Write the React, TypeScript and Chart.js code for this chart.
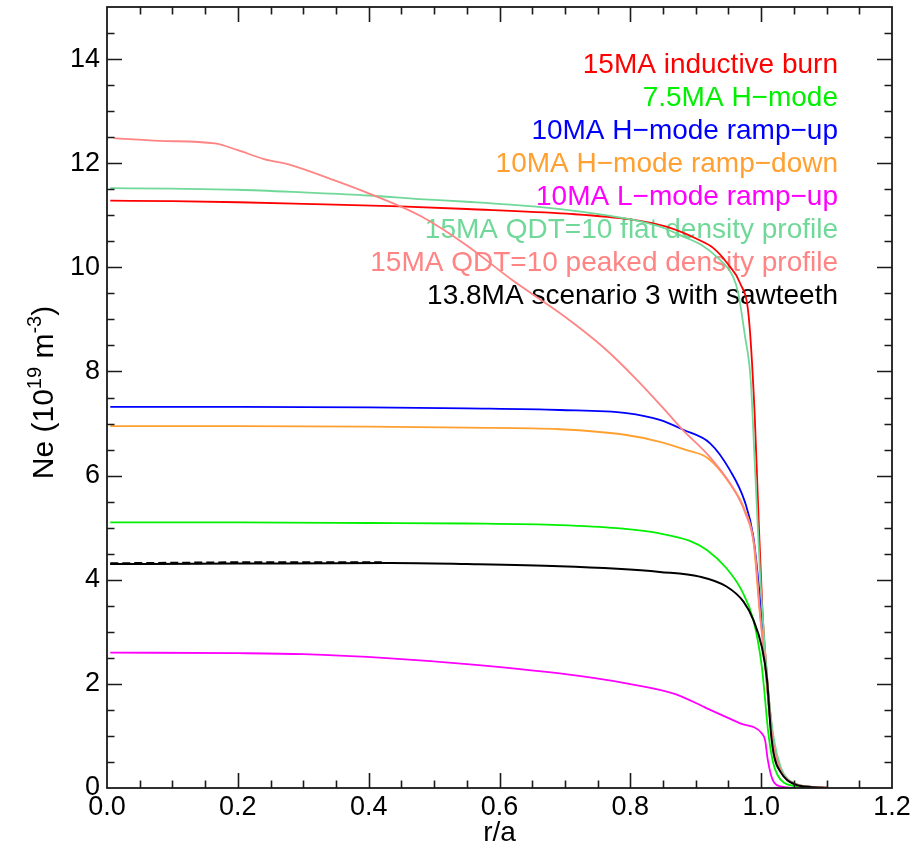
import React, { useEffect, useRef } from 'react';
import { Chart, registerables } from 'chart.js';

Chart.register(...registerables);

// ---------- data ----------
const seriesLabels = [
  '15MA inductive burn',
  '7.5MA H\u2212mode',
  '10MA H\u2212mode ramp\u2212up',
  '10MA H\u2212mode ramp\u2212down',
  '10MA L\u2212mode ramp\u2212up',
  '15MA QDT=10 flat density profile',
  '15MA QDT=10 peaked density profile',
  '13.8MA scenario 3 with sawteeth',
];
const seriesColors = ['#FF0000', '#00F000', '#0000FF', '#FFA030', '#FF00FF', '#70D898', '#FF8484', '#000000'];

const rInductive = [0.005, 0.1, 0.2, 0.3, 0.448, 0.55, 0.703, 0.8, 0.855, 0.906, 0.927, 0.95, 0.968, 0.981, 0.99, 0.996, 1.002, 1.008, 1.015, 1.02, 1.03, 1.04, 1.05, 1.06, 1.08, 1.1];
const neInductive = [11.28, 11.27, 11.25, 11.22, 11.17, 11.12, 11.03, 10.92, 10.78, 10.52, 10.37, 10.05, 9.69, 9.05, 7.2, 5.2, 3.4, 2.3, 1.3, 0.8, 0.35, 0.17, 0.09, 0.05, 0.02, 0.01];

const rH75 = [0.005, 0.2, 0.4, 0.55, 0.692, 0.78, 0.845, 0.89, 0.917, 0.947, 0.97, 0.988, 1.001, 1.011, 1.018, 1.025, 1.035, 1.05, 1.07, 1.1];
const neH75 = [5.1, 5.1, 5.09, 5.08, 5.05, 4.99, 4.89, 4.75, 4.57, 4.22, 3.8, 3.23, 2.33, 1.05, 0.5, 0.25, 0.1, 0.04, 0.01, 0.0];

const rHUp = [0.005, 0.2, 0.4, 0.55, 0.692, 0.794, 0.845, 0.881, 0.922, 0.952, 0.975, 0.988, 0.997, 1.003, 1.01, 1.015, 1.02, 1.03, 1.04, 1.05, 1.06, 1.08, 1.1];
const neHUp = [7.32, 7.32, 7.31, 7.29, 7.26, 7.2, 7.07, 6.88, 6.62, 6.11, 5.5, 4.83, 3.8, 2.9, 1.8, 1.15, 0.72, 0.32, 0.16, 0.08, 0.04, 0.02, 0.01];

const rHDown = [0.005, 0.2, 0.4, 0.55, 0.692, 0.794, 0.845, 0.886, 0.919, 0.952, 0.975, 0.988, 0.998, 1.005, 1.01, 1.015, 1.02, 1.03, 1.04, 1.05, 1.06, 1.08, 1.1];
const neHDown = [6.95, 6.95, 6.94, 6.92, 6.89, 6.78, 6.65, 6.49, 6.33, 5.85, 5.34, 4.76, 3.35, 2.6, 1.8, 1.15, 0.72, 0.32, 0.16, 0.08, 0.04, 0.02, 0.01];

const rLUp = [0.005, 0.2, 0.3, 0.433, 0.55, 0.692, 0.794, 0.87, 0.917, 0.968, 1.001, 1.006, 1.01, 1.015, 1.02, 1.03, 1.05];
const neLUp = [2.6, 2.59, 2.57, 2.49, 2.38, 2.2, 2.01, 1.8, 1.53, 1.24, 1.05, 0.92, 0.55, 0.25, 0.1, 0.03, 0.0];

const rFlat = [0.005, 0.1, 0.2, 0.3, 0.4, 0.478, 0.55, 0.652, 0.73, 0.805, 0.85, 0.881, 0.91, 0.932, 0.957, 0.965, 0.975, 0.984, 0.99, 0.998, 1.005, 1.012, 1.02, 1.03, 1.04, 1.05, 1.06, 1.08, 1.1];
const neFlat = [11.52, 11.51, 11.49, 11.44, 11.38, 11.31, 11.26, 11.17, 11.06, 10.91, 10.76, 10.59, 10.42, 10.2, 9.82, 9.5, 8.7, 7.84, 6.3, 4.2, 2.8, 1.7, 0.9, 0.4, 0.18, 0.09, 0.05, 0.02, 0.01];

const rPeaked = [0.01, 0.08, 0.165, 0.2, 0.24, 0.28, 0.35, 0.4, 0.48, 0.55, 0.62, 0.7, 0.76, 0.81, 0.85, 0.88, 0.92, 0.955, 0.975, 0.99, 1.0, 1.008, 1.015, 1.02, 1.03, 1.04, 1.05, 1.06, 1.08, 1.1];
const nePeaked = [12.48, 12.43, 12.38, 12.25, 12.08, 11.97, 11.66, 11.42, 10.98, 10.42, 9.75, 9.05, 8.45, 7.84, 7.3, 6.88, 6.38, 5.8, 5.3, 4.6, 3.1, 2.1, 1.2, 0.75, 0.33, 0.16, 0.08, 0.04, 0.02, 0.01];

const rSaw = [0.005, 0.2, 0.433, 0.55, 0.692, 0.78, 0.845, 0.906, 0.947, 0.973, 0.988, 1.001, 1.009, 1.015, 1.02, 1.03, 1.04, 1.05, 1.06, 1.08, 1.1];
const neSaw = [4.3, 4.31, 4.32, 4.3, 4.26, 4.21, 4.15, 4.06, 3.87, 3.58, 3.23, 2.71, 2.07, 1.05, 0.6, 0.3, 0.15, 0.08, 0.04, 0.015, 0.0];

// dashed overlay seen on the black profile near the axis
const rSawDash = [0.005, 0.1, 0.2, 0.3, 0.42];
const neSawDash = [4.31, 4.32, 4.33, 4.33, 4.33];

const xTickValues = [0, 0.2, 0.4, 0.6, 0.8, 1.0, 1.2];
const yTickValues = [0, 2, 4, 6, 8, 10, 12, 14];
const xRange = [0, 1.2];
const yRange = [0, 15];
const xMinorStep = 0.05;
const yMinorStep = 0.5;

const xTitle = 'r/a';

const seriesX = [rInductive, rH75, rHUp, rHDown, rLUp, rFlat, rPeaked, rSaw];
const seriesY = [neInductive, neH75, neHUp, neHDown, neLUp, neFlat, nePeaked, neSaw];

const FONT = '"Liberation Sans", Arial, Helvetica, sans-serif';

function pts(xs: number[], ys: number[]) {
  return xs.map((x, i) => ({ x, y: ys[i] }));
}

const idlPlugin = {
  id: 'idlPlugin',
  beforeDatasetsDraw(chart: any) {
    const ctx = chart.ctx;
    const area = chart.chartArea;
    ctx.save();
    ctx.font = `28px ${FONT}`;
    ctx.textAlign = 'right';
    ctx.textBaseline = 'middle';
    const right = area.right - 54;
    seriesLabels.forEach((lab, i) => {
      ctx.fillStyle = seriesColors[i];
      ctx.fillText(lab, right, area.top + 58 + i * 33.1);
    });
    ctx.restore();
  },
  afterDatasetsDraw(chart: any) {
    const ctx = chart.ctx;
    const a = chart.chartArea;
    const xs = chart.scales.x;
    const ys = chart.scales.y;
    ctx.save();
    ctx.strokeStyle = '#1a1a1a';
    ctx.lineWidth = 1.6;
    ctx.beginPath();
    const majorLen = 15;
    const minorLen = 7.5;
    const nx = Math.round((xRange[1] - xRange[0]) / xMinorStep);
    for (let i = 1; i < nx; i++) {
      const v = xRange[0] + i * xMinorStep;
      const isMajor = xTickValues.some((t) => Math.abs(t - v) < 1e-6);
      const len = isMajor ? majorLen : minorLen;
      const px = Math.round(xs.getPixelForValue(v)) + 0.5;
      ctx.moveTo(px, a.bottom);
      ctx.lineTo(px, a.bottom - len);
      ctx.moveTo(px, a.top);
      ctx.lineTo(px, a.top + len);
    }
    const ny = Math.round((yRange[1] - yRange[0]) / yMinorStep);
    for (let i = 1; i < ny; i++) {
      const v = yRange[0] + i * yMinorStep;
      const isMajor = yTickValues.some((t) => Math.abs(t - v) < 1e-6);
      const len = isMajor ? majorLen : minorLen;
      const py = Math.round(ys.getPixelForValue(v)) + 0.5;
      ctx.moveTo(a.left, py);
      ctx.lineTo(a.left + len, py);
      ctx.moveTo(a.right, py);
      ctx.lineTo(a.right - len, py);
    }
    ctx.stroke();
    ctx.lineWidth = 1.8;
    ctx.strokeRect(a.left, a.top, a.right - a.left, a.bottom - a.top);
    ctx.restore();
  },
  afterDraw(chart: any) {
    const ctx = chart.ctx;
    const a = chart.chartArea;
    ctx.save();
    ctx.fillStyle = '#000';
    // x title
    ctx.font = `28px ${FONT}`;
    ctx.textAlign = 'center';
    ctx.textBaseline = 'middle';
    ctx.fillText(xTitle, (a.left + a.right) / 2, a.bottom + 45);
    // y title with superscripts
    const parts = [
      { t: 'Ne (10', sup: false },
      { t: '19', sup: true },
      { t: ' m', sup: false },
      { t: '-3', sup: true },
      { t: ')', sup: false },
    ];
    const big = `30px ${FONT}`;
    const small = `20px ${FONT}`;
    let total = 0;
    const widths = parts.map((p) => {
      ctx.font = p.sup ? small : big;
      const w = ctx.measureText(p.t).width;
      total += w;
      return w;
    });
    ctx.translate(42, (a.top + a.bottom) / 2 - 5);
    ctx.rotate(-Math.PI / 2);
    ctx.textAlign = 'left';
    ctx.textBaseline = 'alphabetic';
    let x = -total / 2;
    parts.forEach((p, i) => {
      ctx.font = p.sup ? small : big;
      ctx.fillText(p.t, x, p.sup ? -1 : 11);
      x += widths[i];
    });
    ctx.restore();
  },
};

export default function App() {
  const ref = useRef<HTMLCanvasElement | null>(null);
  useEffect(() => {
    if (!ref.current) return;
    const datasets: any[] = seriesLabels.map((lab, i) => ({
      label: lab,
      data: pts(seriesX[i], seriesY[i]),
      borderColor: seriesColors[i],
      backgroundColor: seriesColors[i],
      borderWidth: i === 7 ? 2 : 1.8,
      pointRadius: 0,
      fill: false,
      cubicInterpolationMode: 'monotone',
      order: 10 - i,
    }));
    datasets.push({
      label: 'sawteeth (dashed)',
      data: pts(rSawDash, neSawDash),
      borderColor: '#000000',
      borderWidth: 2.6,
      borderDash: [8, 4],
      pointRadius: 0,
      fill: false,
      order: 0,
    });
    const chart = new Chart(ref.current, {
      type: 'line',
      data: { datasets },
      plugins: [idlPlugin],
      options: {
        animation: false,
        responsive: false,
        devicePixelRatio: 1,
        layout: { padding: { left: 0, right: 27, top: 7, bottom: 0 } },
        plugins: { legend: { display: false }, tooltip: { enabled: false } },
        scales: {
          x: {
            type: 'linear',
            min: xRange[0],
            max: xRange[1],
            afterFit: (s: any) => { s.height = 72; s.paddingLeft = 0; s.paddingRight = 0; },
            afterBuildTicks: (s: any) => { s.ticks = xTickValues.map((v) => ({ value: v })); },
            grid: { display: false, drawTicks: false },
            border: { display: false },
            ticks: {
              padding: 3,
              color: '#000',
              maxRotation: 0,
              autoSkip: false,
              font: { family: FONT, size: 27 },
              callback: (v: any) => Number(v).toFixed(1),
            },
          },
          y: {
            type: 'linear',
            min: yRange[0],
            max: yRange[1],
            afterFit: (s: any) => { s.width = 107; s.paddingTop = 0; s.paddingBottom = 0; },
            afterBuildTicks: (s: any) => { s.ticks = yTickValues.map((v) => ({ value: v })); },
            grid: { display: false, drawTicks: false },
            border: { display: false },
            ticks: {
              padding: 7,
              color: '#000',
              autoSkip: false,
              font: { family: FONT, size: 27 },
              callback: (v: any) => String(v),
            },
          },
        },
      },
    });
    return () => chart.destroy();
  }, []);
  return (
    <div style={{ position: 'fixed', left: 0, top: 0, width: 919, height: 860, background: '#fff' }}>
      <canvas ref={ref} width={919} height={860} style={{ display: 'block' }} />
    </div>
  );
}
